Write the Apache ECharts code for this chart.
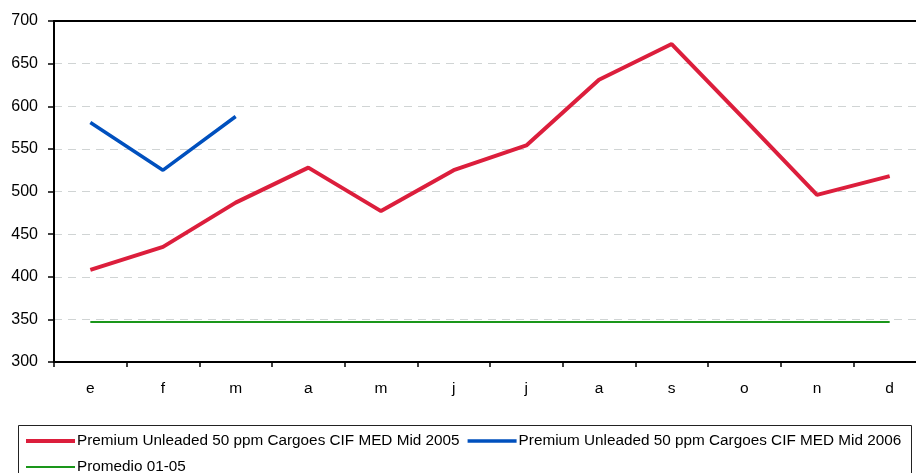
<!DOCTYPE html>
<html><head><meta charset="utf-8">
<script src="https://cdn.jsdelivr.net/npm/echarts@6/dist/echarts.min.js"></script>
<style>html,body{margin:0;padding:0;background:#fff;overflow:hidden;width:916px;height:473px}#c{width:930px;height:473px}</style>
</head><body><div id="c"></div>
<script>
const categories = ['e','f','m','a','m','j','j','a','s','o','n','d'];
const s2005 = [408, 435, 487, 528, 477, 525, 554, 631, 673, 585, 496, 518];
const s2006 = [581, 525, 588, null, null, null, null, null, null, null, null, null];
const prom = [347, 347, 347, 347, 347, 347, 347, 347, 347, 347, 347, 347];
const names = ['Premium Unleaded 50 ppm Cargoes CIF MED Mid 2005','Premium Unleaded 50 ppm Cargoes CIF MED Mid 2006','Promedio 01-05'];

const chart = echarts.init(document.getElementById('c'));
const font = 'Liberation Sans, Arial, sans-serif';
chart.setOption({
  animation: false,
  grid: {left: 54, width: 872, top: 21, height: 341},
  xAxis: [{
    type: 'category', data: categories, boundaryGap: true,
    axisLine: {lineStyle: {color: '#000', width: 2}},
    axisTick: {show: true, length: 5, lineStyle: {color: '#000', width: 1.5}},
    axisLabel: {color: '#000', fontFamily: font, fontSize: 15.5, margin: 19}
  }, {
    type: 'category', data: categories, position: 'top',
    axisLine: {lineStyle: {color: '#000', width: 2}},
    axisTick: {show: false}, axisLabel: {show: false}
  }],
  yAxis: {
    type: 'value', min: 300, max: 700, interval: 50,
    axisLine: {show: true, lineStyle: {color: '#000', width: 2}},
    axisTick: {show: true, length: 6, lineStyle: {color: '#000', width: 1.5}},
    axisLabel: {color: '#000', fontFamily: font, fontSize: 16, margin: 16},
    splitLine: {lineStyle: {color: '#d0d4d4', type: [8, 6], width: 1}}
  },
  legend: {
    left: 21, top: 427, width: 900, itemWidth: 49, itemHeight: 4, itemGap: 8,
    textStyle: {fontFamily: font, fontSize: 15.3, lineHeight: 18, color: '#000', padding: [0,0,0,-3]},
    data: [
      {name: names[0], icon: 'rect'},
      {name: names[1], icon: 'path://M0,0L49,0L49,3.3L0,3.3Z'},
      {name: names[2], icon: 'path://M0,0L49,0L49,2L0,2Z'}
    ]
  },
  graphic: [{type: 'rect', shape: {x: 18.5, y: 425.5, width: 893, height: 60}, style: {fill: null, stroke: '#222', lineWidth: 1}}],
  series: [
    {name: names[0], type: 'line', data: s2005, symbol: 'none', lineStyle: {color: '#DC1E3C', width: 4}, itemStyle: {color: '#DC1E3C'}},
    {name: names[1], type: 'line', data: s2006, symbol: 'none', lineStyle: {color: '#0050BE', width: 3.5}, itemStyle: {color: '#0050BE'}},
    {name: names[2], type: 'line', data: prom, symbol: 'none', lineStyle: {color: '#1A961A', width: 2}, itemStyle: {color: '#1A961A'}}
  ]
});
</script></body></html>
